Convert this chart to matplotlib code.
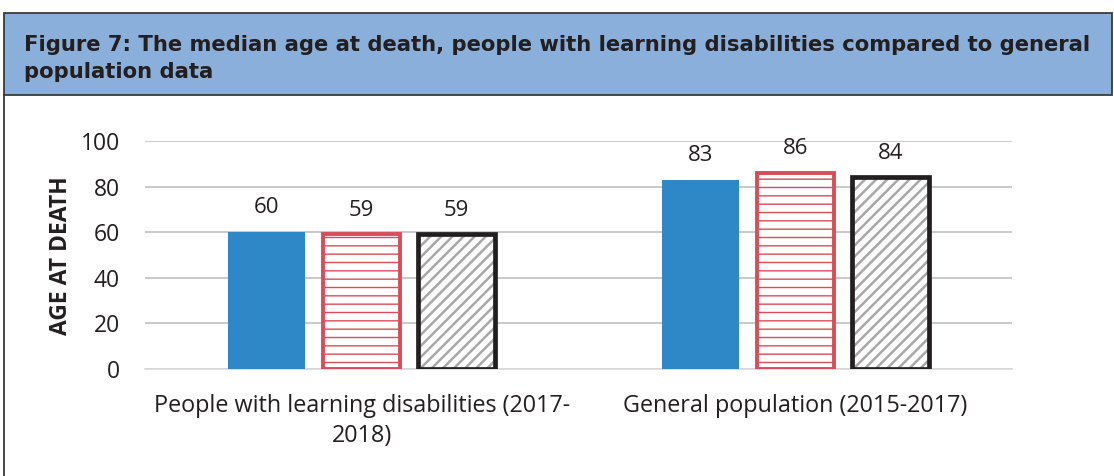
import matplotlib
matplotlib.use("Agg")
import matplotlib.pyplot as plt
import numpy as np
from matplotlib.patches import Rectangle
from matplotlib.lines import Line2D

categories = ["People with learning disabilities (2017-\n2018)",
              "General population (2015-2017)"]
males = [60, 83]
females = [59, 86]
all_people = [59, 84]

BLUE = "#2e87c6"
RED = "#d94c59"
HATCH_GRAY = "#a8a8a8"
INK = "#231f20"
HEADER = "#8aafda"
GRID = "#c0c0c0"
W, H = 1114, 476

plt.rcParams["font.family"] = ["Open Sans", "DejaVu Sans"]
fig = plt.figure(figsize=(W / 100, H / 100), dpi=100)

# header band and frame
fig.patches.append(Rectangle((4 / W, 1 - 95 / H), 1108 / W, 82 / H, transform=fig.transFigure,
                             fc=HEADER, ec="#3a3a3a", lw=1.3))
fig.lines.append(Line2D([4 / W, 4 / W], [0, 1 - 95 / H], transform=fig.transFigure,
                        color="#3a3a3a", lw=1.3))
title_lines = ["Figure 7: The median age at death, people with learning disabilities compared to general",
               "population data"]
for line, ybase in zip(title_lines, [51, 78]):
    fig.text(24 / W, 1 - ybase / H, line, ha="left", va="baseline", fontsize=15.2,
             weight="bold", color=INK, family=["DejaVu Sans"])

ax = fig.add_axes([145 / W, 1 - 369 / H, 867 / W, 228 / H])
x = np.arange(len(categories))
bw = 0.178
gap = 0.219

ax.bar(x - gap, males, bw, color=BLUE, zorder=3)

plt.rcParams["hatch.linewidth"] = 1.0
red_h = ax.bar(x, females, bw, color="white", edgecolor=RED, hatch="--", lw=0, zorder=3)
ax.bar(x, females, bw, color="none", edgecolor=RED, lw=2.8, zorder=4)

plt.rcParams["hatch.linewidth"] = 1.8
gray_h = ax.bar(x + gap, all_people, bw, color="white", edgecolor=HATCH_GRAY, hatch="///", lw=0, zorder=3)
ax.bar(x + gap, all_people, bw, color="none", edgecolor=INK, lw=3.4, zorder=4)

for p in red_h:
    if hasattr(p, "set_hatch_linewidth"):
        p.set_hatch_linewidth(1.0)
for p in gray_h:
    if hasattr(p, "set_hatch_linewidth"):
        p.set_hatch_linewidth(1.8)

for offs, vals in [(-gap, males), (0, females), (gap, all_people)]:
    for xi, v in zip(x, vals):
        ax.annotate(str(v), (xi + offs, v), xytext=(0, 10), textcoords="offset points",
                    ha="center", va="bottom", fontsize=16, color=INK)

ax.set_xlim(-0.5, 1.5)
ax.set_ylim(0, 100)
ax.set_yticks(range(0, 101, 20))
ax.yaxis.grid(True, color=GRID, lw=1.2, zorder=0)
ax.set_axisbelow(True)
for s in ["top", "right", "left"]:
    ax.spines[s].set_visible(False)
ax.spines["bottom"].set_color("#d9d9d9")
ax.spines["bottom"].set_linewidth(1.2)
ax.set_xticks(x)
ax.set_xticklabels(categories, fontsize=16.8, color=INK, linespacing=1.33)
ax.tick_params(axis="x", length=0, pad=18)
ax.tick_params(axis="y", length=0, pad=18, labelsize=16.5, labelcolor=INK)

fig.text(61 / W, 1 - 256 / H, "AGE AT DEATH", rotation=90, ha="center", va="center",
         fontsize=16.5, weight="bold", color=INK)

fig.savefig("out.png", dpi=100, facecolor="white")
